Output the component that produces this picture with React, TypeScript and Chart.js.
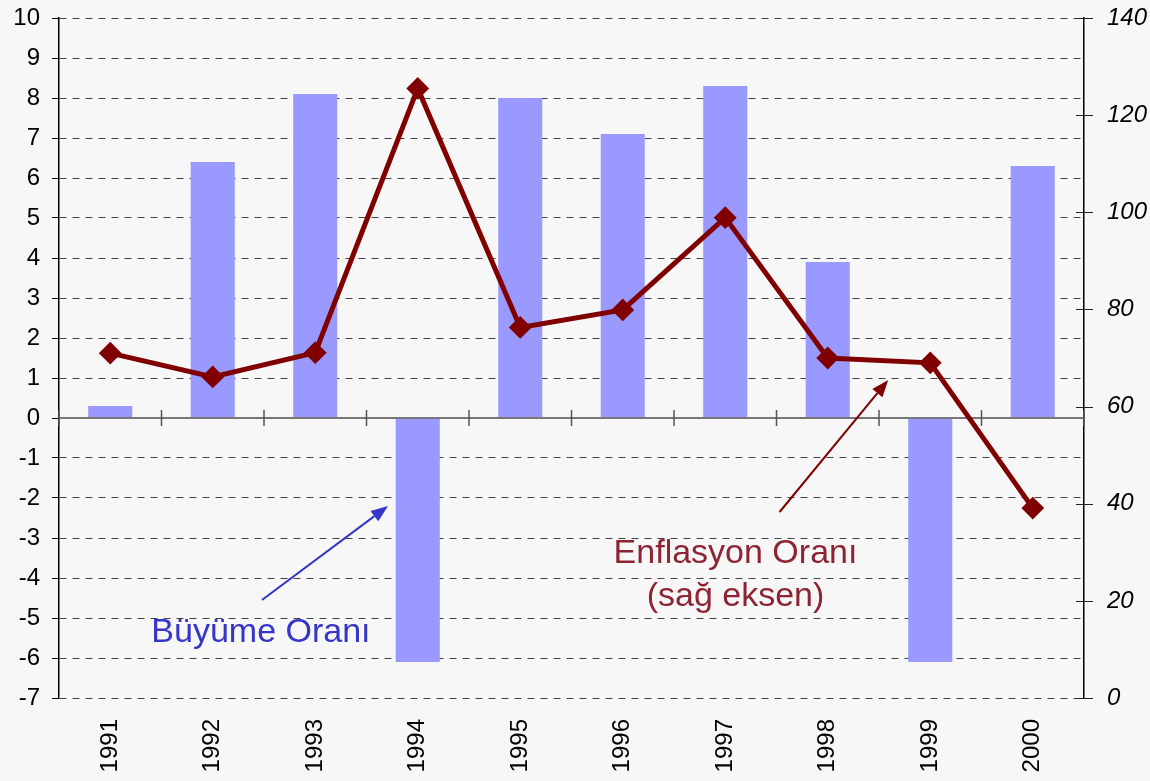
import React, { useEffect, useRef } from "react";
import { Chart, registerables } from "chart.js";

Chart.register(...registerables);

// ---- data ----
const years = ["1991", "1992", "1993", "1994", "1995", "1996", "1997", "1998", "1999", "2000"];
const growthRate = [0.3, 6.4, 8.1, -6.1, 8.0, 7.1, 8.3, 3.9, -6.1, 6.3];
const inflationRate = [71.0, 66.1, 71.1, 125.5, 76.3, 79.9, 98.9, 70.0, 69.0, 39.1];
const leftAxisMin = -7;
const leftAxisMax = 10;
const leftAxisStep = 1;
const rightAxisMin = 0;
const rightAxisMax = 140;
const rightAxisStep = 20;
const growthLabel = "Büyüme Oranı";
const inflationLabel = ["Enflasyon Oranı", "(sağ eksen)"];

// annotation anchors in data space (x = category index, y = left axis value)
const growthArrow = { from: [1.48, -4.55], to: [2.71, -2.2] };
const inflationArrow = { from: [6.53, -2.35], to: [7.59, 0.95] };
const growthTextAt = [1.47, -5.6];
const inflationTextAt = [6.1, -3.625];

const FONT = 'Arial, "Liberation Sans", sans-serif';
const BLUE = "#3535c8";
const MAROON = "#800000";
const TEXT_RED = "#8e2433";

function drawArrow(ctx: CanvasRenderingContext2D, x1: number, y1: number, x2: number, y2: number, color: string) {
  const ang = Math.atan2(y2 - y1, x2 - x1);
  const headLen = 17;
  const headHalf = 6.5;
  const bx = x2 - headLen * Math.cos(ang);
  const by = y2 - headLen * Math.sin(ang);
  ctx.save();
  ctx.strokeStyle = color;
  ctx.fillStyle = color;
  ctx.lineWidth = 2;
  ctx.beginPath();
  ctx.moveTo(x1, y1);
  ctx.lineTo(bx, by);
  ctx.stroke();
  ctx.beginPath();
  ctx.moveTo(x2, y2);
  ctx.lineTo(bx + headHalf * Math.sin(ang), by - headHalf * Math.cos(ang));
  ctx.lineTo(bx - headHalf * Math.sin(ang), by + headHalf * Math.cos(ang));
  ctx.closePath();
  ctx.fill();
  ctx.restore();
}

const decorPlugin = {
  id: "decor",
  beforeDraw(chart: any) {
    const ctx = chart.ctx;
    ctx.save();
    ctx.fillStyle = "#f7f7f7";
    ctx.fillRect(0, 0, chart.width, chart.height);
    ctx.restore();
  },
  afterDatasetDraw(chart: any, args: any) {
    if (args.meta.type !== "bar") return;
    const ctx = chart.ctx;
    const { left, right } = chart.chartArea;
    const y0 = chart.scales.y.getPixelForValue(0);
    ctx.save();
    ctx.strokeStyle = "#777777";
    ctx.lineWidth = 2;
    ctx.beginPath();
    ctx.moveTo(left, y0);
    ctx.lineTo(right, y0);
    ctx.stroke();
    ctx.lineWidth = 1.5;
    ctx.strokeStyle = "#555555";
    const n = years.length;
    for (let i = 0; i <= n; i++) {
      const x = left + ((right - left) * i) / n;
      ctx.beginPath();
      ctx.moveTo(x, y0 - 8);
      ctx.lineTo(x, y0 + 8);
      ctx.stroke();
    }
    ctx.restore();
  },
  afterDraw(chart: any) {
    const ctx = chart.ctx;
    const xs = chart.scales.x;
    const ys = chart.scales.y;
    const y2 = chart.scales.y2;
    const px = (p: number[]) => [xs.getPixelForValue(p[0]), ys.getPixelForValue(p[1])];

    // right axis tick marks crossing the axis
    ctx.save();
    ctx.strokeStyle = "#222";
    ctx.lineWidth = 1;
    const ax = chart.chartArea.right;
    for (let v = rightAxisMin; v <= rightAxisMax; v += rightAxisStep) {
      const y = Math.round(y2.getPixelForValue(v)) + 0.5;
      ctx.beginPath();
      ctx.moveTo(ax - 8, y);
      ctx.lineTo(ax + 9, y);
      ctx.stroke();
    }
    ctx.restore();

    // arrows
    const a1 = px(growthArrow.from), b1 = px(growthArrow.to);
    drawArrow(ctx, a1[0], a1[1], b1[0], b1[1], BLUE);
    const a2 = px(inflationArrow.from), b2 = px(inflationArrow.to);
    drawArrow(ctx, a2[0], a2[1], b2[0], b2[1], MAROON);

    // texts
    ctx.save();
    ctx.font = `34px ${FONT}`;
    ctx.textAlign = "center";
    ctx.textBaseline = "alphabetic";
    ctx.fillStyle = BLUE;
    const t1 = px(growthTextAt);
    ctx.fillText(growthLabel, t1[0], t1[1]);
    ctx.fillStyle = TEXT_RED;
    const t2 = px(inflationTextAt);
    ctx.fillText(inflationLabel[0], t2[0], t2[1]);
    ctx.fillText(inflationLabel[1], t2[0], t2[1] + 43);
    ctx.restore();
  },
};

export default function App() {
  const ref = useRef<HTMLCanvasElement | null>(null);
  useEffect(() => {
    if (!ref.current) return;
    const chart = new Chart(ref.current, {
      type: "bar",
      data: {
        labels: years,
        datasets: [
          {
            type: "line",
            label: "Enflasyon Oranı",
            data: inflationRate,
            yAxisID: "y2",
            borderColor: MAROON,
            backgroundColor: MAROON,
            borderWidth: 5,
            pointStyle: "rectRot",
            pointRadius: 10,
            pointBorderWidth: 2,
            pointBackgroundColor: MAROON,
            pointBorderColor: MAROON,
            tension: 0,
            order: 0,
          } as any,
          {
            type: "bar",
            label: "Büyüme Oranı",
            data: growthRate,
            yAxisID: "y",
            backgroundColor: "#9999ff",
            borderWidth: 0,
            categoryPercentage: 1,
            barPercentage: 0.43,
            order: 1,
          } as any,
        ],
      },
      options: {
        responsive: false,
        animation: false,
        layout: { padding: { top: 18, left: 0, right: 0, bottom: 0 } },
        plugins: { legend: { display: false }, tooltip: { enabled: false } },
        scales: {
          x: {
            offset: true,
            grid: { display: false, drawTicks: false },
            border: { display: false },
            ticks: {
              autoSkip: false,
              minRotation: 90,
              maxRotation: 90,
              padding: 21,
              color: "#000",
              font: { family: FONT, size: 24 },
            },
            afterFit: (axis: any) => {
              axis.height = 83;
              axis.paddingLeft = 0;
              axis.paddingRight = 0;
            },
          },
          y: {
            position: "left",
            min: leftAxisMin,
            max: leftAxisMax,
            ticks: {
              stepSize: leftAxisStep,
              padding: 12,
              color: "#000",
              font: { family: FONT, size: 24 },
            },
            grid: {
              color: (c: any) => (c.tick && c.tick.value === 0 ? "rgba(0,0,0,0)" : "#444444"),
              lineWidth: 1,
              drawTicks: true,
              tickLength: 7,
              tickColor: "#000",
              tickWidth: 1,
            },
            border: { display: true, color: "#000", width: 1.5, dash: [7, 6] },
            afterFit: (axis: any) => {
              axis.width = 59;
              axis.paddingTop = 0;
              axis.paddingBottom = 0;
            },
          },
          y2: {
            position: "right",
            min: rightAxisMin,
            max: rightAxisMax,
            ticks: {
              stepSize: rightAxisStep,
              padding: 23,
              color: "#000",
              font: { family: FONT, size: 24, style: "italic" },
            },
            grid: { drawOnChartArea: false, drawTicks: false },
            border: { display: true, color: "#000", width: 1.5 },
            afterFit: (axis: any) => {
              axis.width = 66;
              axis.paddingTop = 0;
              axis.paddingBottom = 0;
            },
          },
        },
      },
      plugins: [decorPlugin],
    } as any);
    return () => chart.destroy();
  }, []);
  return (
    <div style={{ position: "absolute", left: 0, top: 0, width: 1150, height: 781, background: "#f7f7f7" }}>
      <canvas ref={ref} width={1150} height={781} style={{ display: "block" }} />
    </div>
  );
}
